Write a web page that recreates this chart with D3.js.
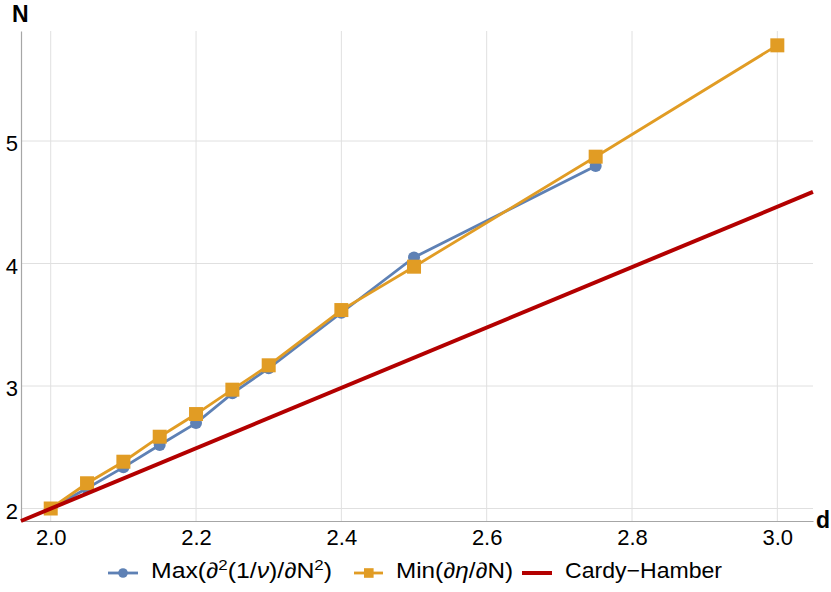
<!DOCTYPE html>
<html><head><meta charset="utf-8">
<script src="https://cdn.jsdelivr.net/npm/d3@7"></script>
<style>body{margin:0;background:#fff}svg{display:block;font-family:"Liberation Sans",Arial,sans-serif}</style>
</head><body><svg id="c" width="831" height="592"></svg>
<script>
const xTicks = [2.0, 2.2, 2.4, 2.6, 2.8, 3.0];
const yTicks = [2, 3, 4, 5];
const maxD = [2.0, 2.05, 2.1, 2.15, 2.2, 2.25, 2.3, 2.4, 2.5, 2.75];
const maxN = [2.0, 2.165, 2.336, 2.518, 2.697, 2.94, 3.145, 3.598, 4.05, 4.796];
const minD = [2.0, 2.05, 2.1, 2.15, 2.2, 2.25, 2.3, 2.4, 2.5, 2.75, 3.0];
const minN = [2.0, 2.206, 2.382, 2.586, 2.771, 2.97, 3.169, 3.62, 3.974, 4.872, 5.781];
const chD = [1.959, 3.049];
const chN = [1.898, 4.584];
const seriesNames = ["Max(∂²(1/ν)/∂N²)", "Min(∂η/∂N)", "Cardy−Hamber"];

const blue = "#5e81b5", orange = "#e19c24", red = "#b30000";
const svg = d3.select("#c");
const x = d3.scaleLinear().domain([1.9591, 3.0491]).range([21, 813]);
const y = d3.scaleLinear().domain([1.898, 5.898]).range([521, 31]);

// grid
const g = svg.append("g");
g.selectAll("line.vg").data(xTicks).join("line")
  .attr("x1", d => x(d)).attr("x2", d => x(d)).attr("y1", y.range()[0]).attr("y2", y.range()[1])
  .attr("stroke", "#e0e0e0").attr("stroke-width", 1);
g.selectAll("line.hg").data(yTicks).join("line")
  .attr("y1", d => y(d)).attr("y2", d => y(d)).attr("x1", x.range()[0]).attr("x2", x.range()[1])
  .attr("stroke", "#e0e0e0").attr("stroke-width", 1);

// axes
const xAxis = d3.axisBottom(x).tickValues(xTicks).tickFormat(d3.format(".1f")).tickSize(0).tickPadding(8);
const yAxis = d3.axisLeft(y).tickValues(yTicks).tickFormat(d3.format("d")).tickSize(0).tickPadding(3);
const xa = svg.append("g").attr("transform", `translate(0,${y.range()[0]})`).call(xAxis);
const ya = svg.append("g").attr("transform", `translate(${x.range()[0]},0)`).call(yAxis);
[xa, ya].forEach(a => {
  a.select(".domain").attr("stroke", "#a6a6a6").attr("stroke-width", 1.2);
  a.selectAll("text").attr("font-size", 22).attr("fill", "#000").attr("font-family", "Liberation Sans, Arial, sans-serif");
});
ya.selectAll("text").attr("dy", "0.45em");
svg.append("text").attr("x", 12).attr("y", 22).attr("font-size", 23).attr("font-weight", "bold").text("N");
svg.append("text").attr("x", 816).attr("y", 528).attr("font-size", 23).attr("font-weight", "bold").text("d");

// lines
const line = d3.line().x(d => x(d[0])).y(d => y(d[1]));
const maxPts = maxD.map((d, i) => [d, maxN[i]]);
const minPts = minD.map((d, i) => [d, minN[i]]);
const chPts = chD.map((d, i) => [d, chN[i]]);

svg.append("path").datum(maxPts).attr("d", line).attr("fill", "none").attr("stroke", blue).attr("stroke-width", 2.8);
svg.selectAll("circle.m").data(maxPts).join("circle")
  .attr("cx", d => x(d[0])).attr("cy", d => y(d[1])).attr("r", 6).attr("fill", blue);
svg.append("path").datum(minPts).attr("d", line).attr("fill", "none").attr("stroke", orange).attr("stroke-width", 2.8);
svg.selectAll("rect.m").data(minPts).join("rect")
  .attr("x", d => x(d[0]) - 7).attr("y", d => y(d[1]) - 7).attr("width", 14).attr("height", 14).attr("fill", orange);
svg.append("path").datum(chPts).attr("d", line).attr("fill", "none").attr("stroke", red).attr("stroke-width", 4);

// legend
const ly = 573;
const lg = svg.append("g").attr("font-size", 22);
lg.append("line").attr("x1", 108).attr("x2", 138).attr("y1", ly).attr("y2", ly).attr("stroke", blue).attr("stroke-width", 2.8);
lg.append("circle").attr("cx", 123).attr("cy", ly).attr("r", 4.8).attr("fill", blue);
const t1 = lg.append("text").attr("x", 151).attr("y", 578).attr("textLength", 181).attr("lengthAdjust", "spacingAndGlyphs");
t1.append("tspan").text("Max(∂");
t1.append("tspan").attr("baseline-shift", "super").attr("font-size", 15).text("2");
t1.append("tspan").text("(1/");
t1.append("tspan").attr("font-style", "italic").text("ν");
t1.append("tspan").text(")/∂N");
t1.append("tspan").attr("baseline-shift", "super").attr("font-size", 15).text("2");
t1.append("tspan").text(")");

lg.append("line").attr("x1", 354).attr("x2", 383).attr("y1", ly).attr("y2", ly).attr("stroke", orange).attr("stroke-width", 2.8);
lg.append("rect").attr("x", 364).attr("y", ly - 4.8).attr("width", 9.6).attr("height", 9.6).attr("fill", orange);
const t2 = lg.append("text").attr("x", 396).attr("y", 578).attr("textLength", 117).attr("lengthAdjust", "spacingAndGlyphs");
t2.append("tspan").text("Min(∂");
t2.append("tspan").attr("font-style", "italic").text("η");
t2.append("tspan").text("/∂N)");

lg.append("line").attr("x1", 522).attr("x2", 552).attr("y1", ly).attr("y2", ly).attr("stroke", red).attr("stroke-width", 4);
lg.append("text").attr("x", 565).attr("y", 578).attr("textLength", 157).attr("lengthAdjust", "spacingAndGlyphs").text(seriesNames[2]);
</script></body></html>
